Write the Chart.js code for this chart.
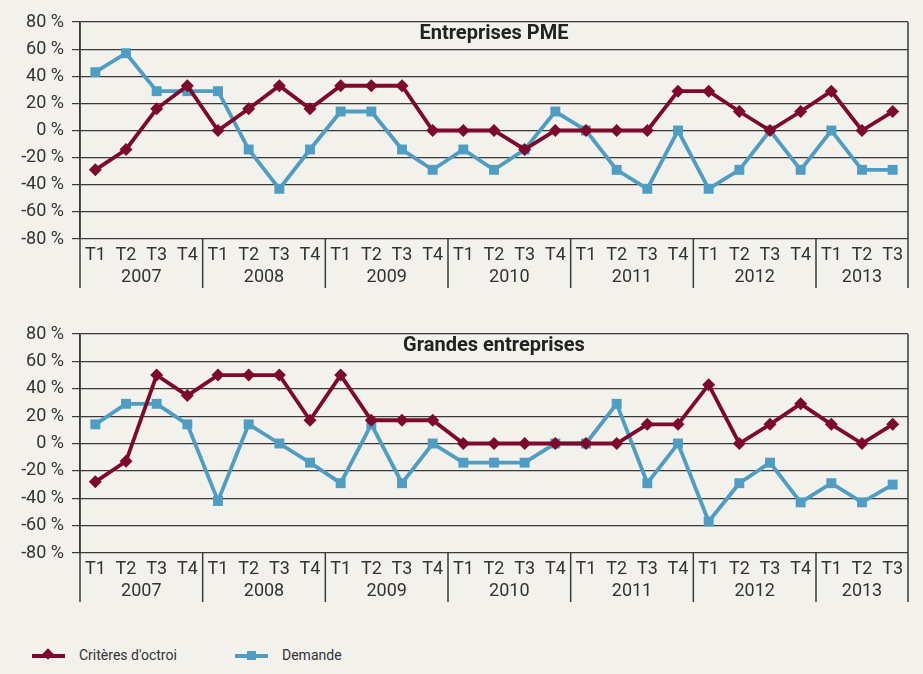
<!DOCTYPE html>
<html>
<head>
	<meta charset="utf-8">
	<title>Critères d'octroi et demande</title>
	<script src="https://cdn.jsdelivr.net/npm/chart.js@4.4.0/dist/chart.umd.min.js"></script>
	<style>
		body { margin: 0; background: #f2f1eb; font-family: Roboto, sans-serif; }
		canvas { display: block; }
		#legend { position: absolute; left: 32px; top: 645px; font-size: 14px; color: #333; }
		.item { position: absolute; white-space: nowrap; top: 0; }
		.sym { position: absolute; top: 9px; width: 33px; height: 4px; }
		.mk { position: absolute; }
	</style>
</head>
<body>

	<canvas id="pme" width="923" height="300"></canvas>
	<canvas id="ge" width="923" height="320"></canvas>
	<div id="legend">
		<div class="item" style="left:0">
			<span class="sym" style="left:0;background:#7d0a2c"></span>
			<span class="mk" style="left:12px;top:5px;width:8px;height:8px;background:#7d0a2c;transform:rotate(45deg)"></span>
			<span style="position:absolute;left:47px;top:2px">Critères d'octroi</span>
		</div>
		<div class="item" style="left:203px">
			<span class="sym" style="left:0;background:#4f9dc2"></span>
			<span class="mk" style="left:12px;top:6px;width:9px;height:9px;background:#4f9dc2"></span>
			<span style="position:absolute;left:47px;top:2px">Demande</span>
		</div>
	</div>

	<script type="text/javascript">

		const quarterLabels = ['T1','T2','T3','T4','T1','T2','T3','T4','T1','T2','T3','T4','T1','T2','T3','T4',
			'T1','T2','T3','T4','T1','T2','T3','T4','T1','T2','T3'];
		const yearLabels = ['2007','2008','2009','2010','2011','2012','2013'];
		const quartersPerYear = [4, 4, 4, 4, 4, 4, 3];

		// Entreprises PME
		const pmeCriteres = [-29,-14,16,33, 0,16,33,16, 33,33,33,0, 0,0,-14,0, 0,0,0,29, 29,14,0,14, 29,0,14];
		const pmeDemande = [43,57,29,29, 29,-14,-43,-14, 14,14,-14,-29, -14,-29,-14,14, 0,-29,-43,0, -43,-29,0,-29, 0,-29,-29];

		// Grandes entreprises
		const geCriteres = [-28,-13,50,35, 50,50,50,17, 50,17,17,17, 0,0,0,0, 0,0,14,14, 43,0,14,29, 14,0,14];
		const geDemande = [14,29,29,14, -42,14,0,-14, -29,14,-29,0, -14,-14,-14,0, 0,29,-29,0, -57,-29,-14,-43, -29,-43,-30];

		const RED = '#7d0a2c';
		const BLUE = '#4f9dc2';

		const yearRows = {
			id: 'yearRows',
			afterDraw(chart) {
				const { ctx, chartArea, scales: { x } } = chart;
				const half = (x.getPixelForValue(1) - x.getPixelForValue(0)) / 2;
				const depth = 49;
				ctx.save();
				ctx.strokeStyle = '#3a3a3a';
				ctx.lineWidth = 1.5;
				ctx.fillStyle = '#333';
				ctx.font = '18px Roboto';
				ctx.textAlign = 'center';
				ctx.textBaseline = 'middle';
				let start = 0;
				quartersPerYear.forEach((n, i) => {
					const left = x.getPixelForValue(start) - half;
					const right = x.getPixelForValue(start + n - 1) + half;
					ctx.beginPath();
					ctx.moveTo(left, i === 0 ? chartArea.top : chartArea.bottom);
					ctx.lineTo(left, chartArea.bottom + depth);
					ctx.stroke();
					if (i === quartersPerYear.length - 1) {
						ctx.beginPath();
						ctx.moveTo(right, chartArea.top);
						ctx.lineTo(right, chartArea.bottom + depth);
						ctx.stroke();
					}
					ctx.fillText(yearLabels[i], (left + right) / 2, chartArea.bottom + 38);
					start += n;
				});
				// title inside the plot
				const title = chart.options.plugins.yearRows.title;
				ctx.font = 'bold 20px Roboto';
				ctx.fillStyle = '#222';
				ctx.fillText(title, (chartArea.left + chartArea.right) / 2, chart.scales.y.getPixelForValue(71));
				ctx.restore();
			}
		};

		function makeChart(id, title, criteres, demande, topPad, xHeight) {
			const ctx = document.getElementById(id).getContext('2d');
			return new Chart(ctx, {
				type: 'line',
				data: {
					labels: quarterLabels,
					datasets: [
						{
							label: "Critères d'octroi",
							data: criteres,
							borderColor: RED,
							backgroundColor: RED,
							borderWidth: 3.8,
							pointStyle: 'rectRot',
							pointRadius: 6.5,
							pointBorderWidth: 0,
							tension: 0
						},
						{
							label: 'Demande',
							data: demande,
							borderColor: BLUE,
							backgroundColor: BLUE,
							borderWidth: 3.8,
							pointStyle: 'rect',
							pointRadius: 7,
							pointBorderWidth: 0,
							tension: 0
						}
					]
				},
				options: {
					responsive: false,
					animation: false,
					layout: { padding: { top: topPad, right: 15, left: 0, bottom: 0 } },
					plugins: {
						legend: { display: false },
						tooltip: { enabled: false },
						yearRows: { title: title }
					},
					scales: {
						x: {
							offset: true,
							grid: { display: false },
							border: { display: false },
							ticks: { color: '#333', font: { size: 18, family: 'Roboto' }, padding: -2, maxRotation: 0, autoSkip: false },
							afterFit: s => { s.height = xHeight; }
						},
						y: {
							min: -80,
							max: 80,
							ticks: { stepSize: 20, color: '#333', font: { size: 18, family: 'Roboto' }, padding: 8,
								callback: v => v + ' %' },
							grid: { color: '#3a3a3a', lineWidth: 1.2, tickLength: 8 },
							border: { display: true, color: '#3a3a3a', width: 1.5 },
							afterFit: s => { s.width = 80; }
						}
					}
				},
				plugins: [yearRows]
			});
		}

		makeChart('pme', 'Entreprises PME', pmeCriteres, pmeDemande, 22, 61);
		makeChart('ge', 'Grandes entreprises', geCriteres, geDemande, 34, 67);

	</script>

</body>
</html>
